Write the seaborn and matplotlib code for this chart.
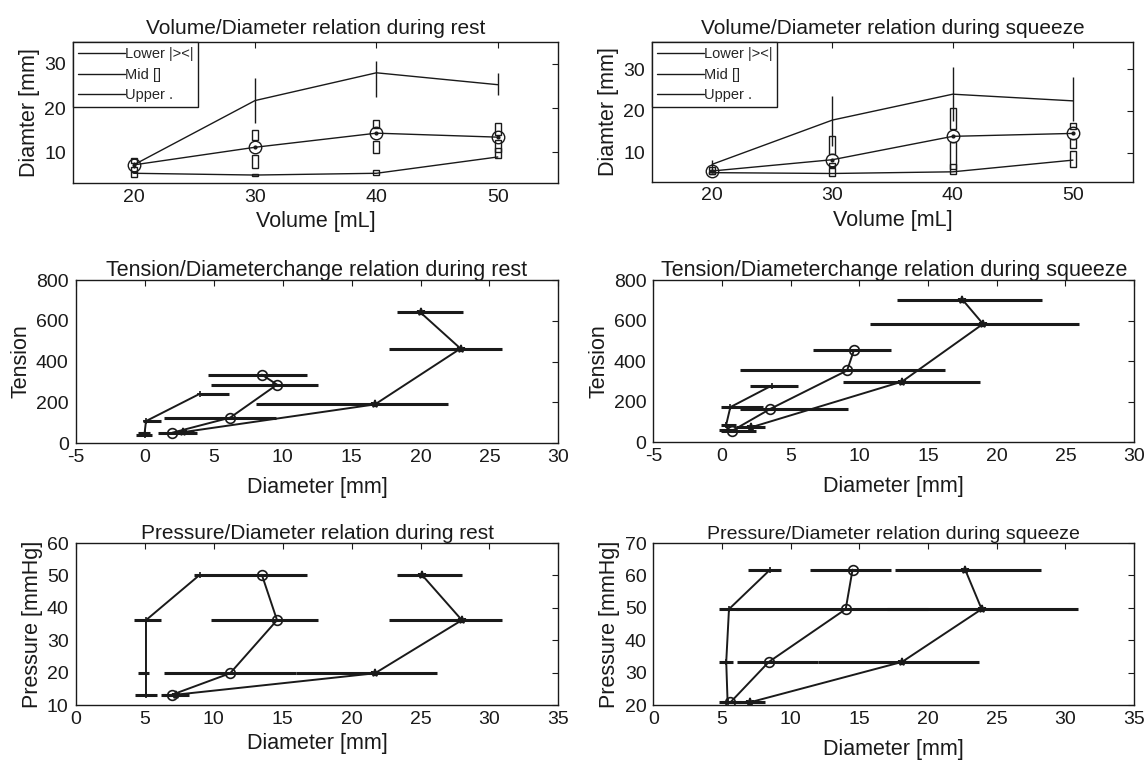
import numpy as np
import matplotlib
matplotlib.use("Agg")
import matplotlib.pyplot as plt
from matplotlib.lines import Line2D
import seaborn as sns


# ==========================================
# DATA
# ==========================================

volumes = [20, 30, 40, 50]

legend_labels = ["Lower |><|", "Mid []", "Upper ."]

# ---------- volume / diameter, rest ----------
rest_upper = [7.1, 21.7, 28.0, 25.3]
rest_upper_lo = [6.5, 16.5, 22.6, 23.0]
rest_upper_hi = [7.8, 26.8, 30.6, 28.0]

rest_mid = [7.1, 11.1, 14.3, 13.4]
rest_mid_top_lo = [7.6, 12.8, 15.4, 13.9]
rest_mid_top_hi = [8.7, 15.1, 17.3, 16.6]
rest_mid_bot_lo = [5.6, 6.4, 9.8, 10.0]
rest_mid_bot_hi = [6.6, 9.4, 12.6, 12.8]

rest_lower = [5.2, 4.8, 5.2, 8.9]
rest_lower_lo = [4.4, 4.5, 4.8, 8.6]
rest_lower_hi = [5.6, 5.1, 5.9, 10.9]

# ---------- volume / diameter, squeeze ----------
sq_upper = [7.2, 17.8, 24.0, 22.4]
sq_upper_lo = [5.5, 11.6, 17.5, 17.6]
sq_upper_hi = [8.2, 23.6, 30.4, 28.0]

sq_mid = [5.6, 8.3, 13.9, 14.6]
sq_mid_top_lo = [5.9, 9.6, 15.6, 15.6]
sq_mid_top_hi = [6.6, 14.0, 20.8, 17.2]
sq_mid_bot_lo = [4.8, 6.6, 6.0, 11.2]
sq_mid_bot_hi = [5.4, 7.4, 12.6, 13.2]

sq_lower = [5.2, 5.0, 5.4, 8.2]
sq_lower_lo = [4.8, 4.4, 4.9, 6.6]
sq_lower_hi = [5.6, 6.2, 7.3, 10.4]

# ---------- tension / diameter change, rest ----------
t_rest_a_x = [0.0, 0.0, 0.1, 4.0]
t_rest_a_y = [40, 50, 108, 242]
t_rest_a_left = [-0.6, -0.5, -0.1, 4.0]
t_rest_a_right = [0.5, 0.4, 1.2, 6.1]

t_rest_b_x = [2.0, 6.2, 9.6, 8.5]
t_rest_b_y = [51, 125, 287, 336]
t_rest_b_left = [1.0, 1.4, 4.8, 4.6]
t_rest_b_right = [3.8, 9.5, 12.6, 11.8]

t_rest_c_x = [2.8, 16.7, 22.9, 20.0]
t_rest_c_y = [54, 190, 464, 641]
t_rest_c_left = [2.2, 8.1, 17.7, 18.3]
t_rest_c_right = [3.6, 22.0, 25.9, 23.1]

# ---------- tension / diameter change, squeeze ----------
t_sq_a_x = [0.4, 0.3, 0.6, 3.6]
t_sq_a_y = [62, 88, 174, 280]
t_sq_a_left = [-0.2, -0.1, -0.1, 2.0]
t_sq_a_right = [1.0, 1.0, 3.0, 5.5]

t_sq_b_x = [0.7, 3.5, 9.1, 9.6]
t_sq_b_y = [56, 165, 355, 455]
t_sq_b_left = [-0.1, 1.3, 1.3, 6.6]
t_sq_b_right = [2.5, 9.2, 16.2, 12.3]

t_sq_c_x = [2.1, 13.1, 19.0, 17.5]
t_sq_c_y = [74, 300, 585, 705]
t_sq_c_left = [1.0, 8.8, 10.8, 12.7]
t_sq_c_right = [3.1, 18.8, 26.0, 23.3]

# ---------- pressure / diameter, rest ----------
p_rest = [13.2, 19.8, 36.2, 50.2]

p_rest_a_x = [5.1, 5.1, 5.1, 9.0]
p_rest_a_left = [4.3, 4.5, 4.2, 8.6]
p_rest_a_right = [5.9, 5.3, 6.2, 9.0]

p_rest_b_x = [7.0, 11.2, 14.6, 13.5]
p_rest_b_left = [6.3, 6.4, 9.8, 9.0]
p_rest_b_right = [7.6, 16.0, 17.6, 16.8]

p_rest_c_x = [7.3, 21.7, 28.0, 25.1]
p_rest_c_left = [6.2, 16.0, 22.7, 23.3]
p_rest_c_right = [8.2, 26.2, 30.9, 28.0]

# ---------- pressure / diameter, squeeze ----------
p_sq = [20.8, 33.3, 49.6, 61.8]

p_sq_a_x = [5.4, 5.3, 5.5, 8.5]
p_sq_a_left = [4.8, 4.8, 4.8, 6.9]
p_sq_a_right = [6.0, 5.8, 6.2, 9.3]

p_sq_b_x = [5.6, 8.4, 14.0, 14.5]
p_sq_b_left = [5.0, 6.1, 6.0, 11.4]
p_sq_b_right = [6.4, 12.0, 20.0, 17.3]

p_sq_c_x = [7.0, 18.1, 23.9, 22.7]
p_sq_c_left = [6.2, 12.0, 17.0, 17.6]
p_sq_c_right = [8.1, 23.7, 30.9, 28.2]


# ==========================================
# STYLE
# ==========================================

sns.set_style("white")

plt.rcParams["font.family"] = ["Liberation Sans", "DejaVu Sans"]
plt.rcParams["axes.linewidth"] = 1.0
plt.rcParams["axes.unicode_minus"] = False

INK = "#1a1a1a"

TITLE_SIZE = 15
LABEL_SIZE = 15.5
TICK_SIZE = 14


def style_axes(ax, xlim, ylim, xticks, yticks):

    ax.set_xlim(*xlim)
    ax.set_ylim(*ylim)
    ax.set_xticks(xticks)
    ax.set_yticks(yticks)

    ax.tick_params(
        direction="in",
        top=True,
        right=True,
        length=4,
        width=0.8,
        labelsize=TICK_SIZE,
        colors=INK,
        labelcolor=INK
    )
    ax.tick_params(axis="y", pad=5)
    ax.tick_params(axis="x", pad=4)

    for spine in ax.spines.values():
        spine.set_color(INK)
        spine.set_visible(True)


# ==========================================
# VOLUME / DIAMETER PANEL
# ==========================================

def draw_volume_panel(
    ax, title,
    upper, upper_lo, upper_hi,
    mid, mid_top_lo, mid_top_hi, mid_bot_lo, mid_bot_hi,
    lower, lower_lo, lower_hi,
    ylim, title_size
):

    # upper line with vertical error bars
    sns.lineplot(
        x=volumes, y=upper, ax=ax,
        color=INK, linewidth=1.0, estimator=None, sort=False
    )
    ax.vlines(volumes, upper_lo, upper_hi, color=INK, linewidth=1.0)

    # mid line with notch boxes
    ax.bar(
        volumes, np.subtract(mid_top_hi, mid_top_lo), bottom=mid_top_lo,
        width=0.5, fill=False, edgecolor=INK, linewidth=1.0
    )
    ax.bar(
        volumes, np.subtract(mid_bot_hi, mid_bot_lo), bottom=mid_bot_lo,
        width=0.5, fill=False, edgecolor=INK, linewidth=1.0
    )
    sns.lineplot(
        x=volumes, y=mid, ax=ax,
        color=INK, linewidth=1.0, estimator=None, sort=False,
        marker="o", markersize=9, markerfacecolor="none",
        markeredgecolor=INK, markeredgewidth=1.0
    )
    ax.plot(volumes, mid, linestyle="none", marker=".",
            markersize=4, color=INK)

    # lower line with small boxes
    ax.bar(
        volumes, np.subtract(lower_hi, lower_lo), bottom=lower_lo,
        width=0.5, fill=False, edgecolor=INK, linewidth=1.0
    )
    sns.lineplot(
        x=volumes, y=lower, ax=ax,
        color=INK, linewidth=1.0, estimator=None, sort=False
    )

    style_axes(ax, (15, 55), ylim, [20, 30, 40, 50], [10, 20, 30])

    handles = [Line2D([], [], color=INK, linewidth=1.0) for _ in legend_labels]
    legend = ax.legend(
        handles, legend_labels,
        loc="upper left",
        fancybox=False,
        framealpha=1,
        edgecolor=INK,
        fontsize=10.5,
        handlelength=3.2,
        handletextpad=0.0,
        borderaxespad=0.0,
        borderpad=0.35,
        labelspacing=0.45
    )
    legend.get_frame().set_linewidth(1.0)

    ax.set_title(title, fontsize=title_size, color=INK, pad=6)
    ax.set_xlabel("Volume [mL]", fontsize=LABEL_SIZE, color=INK, labelpad=4)
    ax.set_ylabel("Diamter [mm]", fontsize=LABEL_SIZE, color=INK, labelpad=3)


# ==========================================
# DIAMETER PANELS (TENSION / PRESSURE)
# ==========================================

def draw_curve(ax, xs, ys, left, right, marker, msize, lw=1.4):

    ax.hlines(ys, left, right, color=INK, linewidth=2.2)

    sns.lineplot(
        x=xs, y=ys, ax=ax,
        color=INK, linewidth=lw, estimator=None, sort=False,
        marker=marker, markersize=msize,
        markerfacecolor="none" if marker == "o" else INK,
        markeredgecolor=INK, markeredgewidth=1.2
    )


def finish_diameter_panel(ax, title, ylabel, xlim, ylim, xticks, yticks,
                          title_size, xlabelpad):

    style_axes(ax, xlim, ylim, xticks, yticks)

    ax.set_title(title, fontsize=title_size, color=INK, pad=3)
    ax.set_xlabel("Diameter [mm]", fontsize=LABEL_SIZE, color=INK,
                  labelpad=xlabelpad)
    ax.set_ylabel(ylabel, fontsize=LABEL_SIZE, color=INK, labelpad=3)


# ==========================================
# FIGURE
# ==========================================

fig = plt.figure(figsize=(11.46, 7.64), dpi=100)

left_x, right_x = 0.065, 0.570
width = 0.422

ax_vol_rest = fig.add_axes([0.0637, 0.7605, 0.4236, 0.1846])
ax_vol_sq = fig.add_axes([0.569, 0.762, 0.4197, 0.183])
ax_ten_rest = fig.add_axes([0.066, 0.420, 0.4213, 0.2134])
ax_ten_sq = fig.add_axes([0.5702, 0.421, 0.4194, 0.2120])
ax_pre_rest = fig.add_axes([0.066, 0.0772, 0.4213, 0.212])
ax_pre_sq = fig.add_axes([0.5702, 0.0772, 0.4194, 0.212])

# ----------------------------------
# VOLUME / DIAMETER
# ----------------------------------

draw_volume_panel(
    ax_vol_rest, "Volume/Diameter relation during rest",
    rest_upper, rest_upper_lo, rest_upper_hi,
    rest_mid, rest_mid_top_lo, rest_mid_top_hi, rest_mid_bot_lo, rest_mid_bot_hi,
    rest_lower, rest_lower_lo, rest_lower_hi,
    (3, 35), 15
)

draw_volume_panel(
    ax_vol_sq, "Volume/Diameter relation during squeeze",
    sq_upper, sq_upper_lo, sq_upper_hi,
    sq_mid, sq_mid_top_lo, sq_mid_top_hi, sq_mid_bot_lo, sq_mid_bot_hi,
    sq_lower, sq_lower_lo, sq_lower_hi,
    (3, 36.5), 15
)

# ----------------------------------
# TENSION / DIAMETER CHANGE
# ----------------------------------

draw_curve(ax_ten_rest, t_rest_a_x, t_rest_a_y, t_rest_a_left, t_rest_a_right, "+", 5)
draw_curve(ax_ten_rest, t_rest_b_x, t_rest_b_y, t_rest_b_left, t_rest_b_right, "o", 7)
draw_curve(ax_ten_rest, t_rest_c_x, t_rest_c_y, t_rest_c_left, t_rest_c_right, "*", 6)

finish_diameter_panel(
    ax_ten_rest, "Tension/Diameterchange relation during rest", "Tension",
    (-5, 30), (0, 800), range(-5, 31, 5), range(0, 801, 200), 15.5, 8
)

draw_curve(ax_ten_sq, t_sq_a_x, t_sq_a_y, t_sq_a_left, t_sq_a_right, "+", 5)
draw_curve(ax_ten_sq, t_sq_b_x, t_sq_b_y, t_sq_b_left, t_sq_b_right, "o", 7)
draw_curve(ax_ten_sq, t_sq_c_x, t_sq_c_y, t_sq_c_left, t_sq_c_right, "*", 6)

finish_diameter_panel(
    ax_ten_sq, "Tension/Diameterchange relation during squeeze", "Tension",
    (-5, 30), (0, 800), range(-5, 31, 5), range(0, 801, 200), 15.5, 8
)

# ----------------------------------
# PRESSURE / DIAMETER
# ----------------------------------

draw_curve(ax_pre_rest, p_rest_a_x, p_rest, p_rest_a_left, p_rest_a_right, "+", 5)
draw_curve(ax_pre_rest, p_rest_b_x, p_rest, p_rest_b_left, p_rest_b_right, "o", 7)
draw_curve(ax_pre_rest, p_rest_c_x, p_rest, p_rest_c_left, p_rest_c_right, "*", 6)

finish_diameter_panel(
    ax_pre_rest, "Pressure/Diameter relation during rest", "Pressure [mmHg]",
    (0, 35), (10, 60), range(0, 36, 5), range(10, 61, 10), 15, 4
)

draw_curve(ax_pre_sq, p_sq_a_x, p_sq, p_sq_a_left, p_sq_a_right, "+", 5)
draw_curve(ax_pre_sq, p_sq_b_x, p_sq, p_sq_b_left, p_sq_b_right, "o", 7)
draw_curve(ax_pre_sq, p_sq_c_x, p_sq, p_sq_c_left, p_sq_c_right, "*", 6)

finish_diameter_panel(
    ax_pre_sq, "Pressure/Diameter relation during squeeze", "Pressure [mmHg]",
    (0, 35), (20, 70), range(0, 36, 5), range(20, 71, 10), 14, 8
)

fig.savefig("out.png", dpi=100, facecolor="white")
plt.close(fig)
